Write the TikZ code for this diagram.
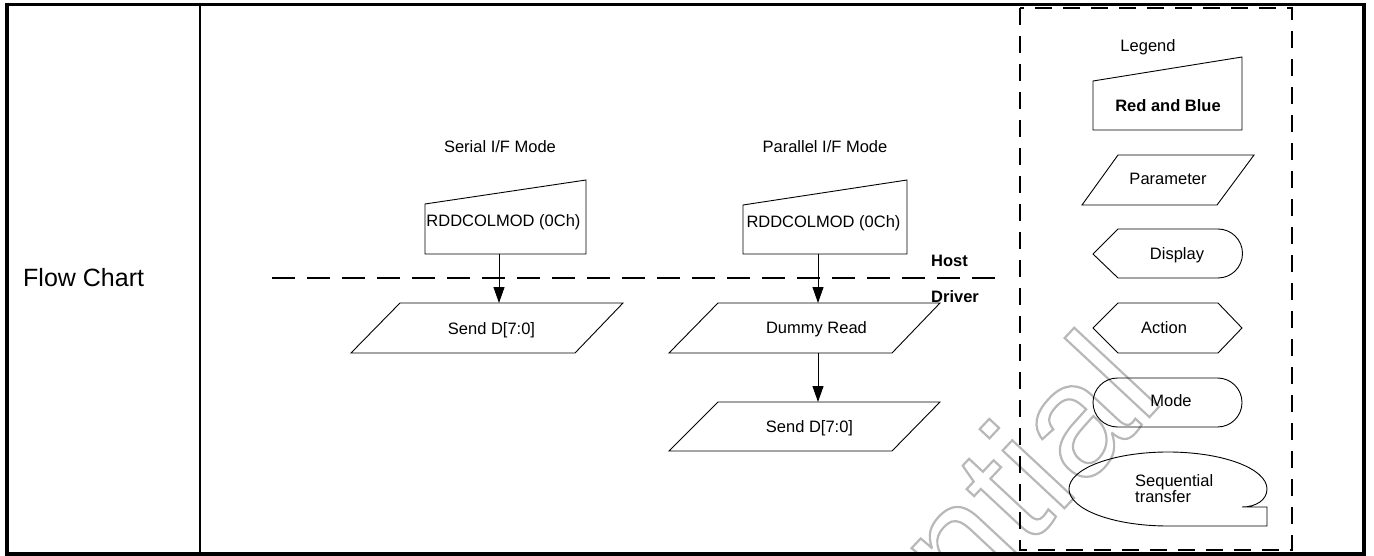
\documentclass[tikz,border=0pt]{standalone}
\usepackage{fontspec}
\setmainfont{Liberation Sans}
\usetikzlibrary{arrows.meta}
\newcommand{\outlinetext}[1]{\special{pdf:literal direct 1 Tr 2.2 w}#1\special{pdf:literal direct 0 Tr}}
\begin{document}
\begin{tikzpicture}[x=1pt,y=-1pt,
  shp/.style={draw=black, line width=0.9pt, line join=miter},
  lbl/.style={font=\fontsize{16.5}{16.5}\selectfont, inner sep=0pt, anchor=base},
  lblw/.style={lbl, anchor=base west},
  bold/.style={font=\fontsize{16.5}{16.5}\selectfont\bfseries},
  arr/.style={draw, line width=1pt, -{Triangle[length=16pt,width=11pt]}},
  sepline/.style={line width=2pt, dash pattern=on 23pt off 12pt},
  lgdbox/.style={line width=2pt, dash pattern=on 17pt off 11pt},
]
\useasboundingbox (0,0) rectangle (1374,556);
% watermark
\begin{scope}
\clip (0,0) rectangle (1374,556);
\node[inner sep=0pt, anchor=base west, rotate=47, text=black!28,
  font=\fontsize{160}{160}\selectfont] (wm) at (590,1017) {\outlinetext{Confidential}};
\end{scope}
% frame
\draw[line width=4pt] (7,3) -- (7,556);
\draw[line width=3pt] (5,4.7) -- (1366,4.7);
\draw[line width=4pt] (1364,3) -- (1364,556);
\draw[line width=4pt] (5,554) -- (1366,554);
\draw[line width=2pt] (200,4) -- (200,554);
\node[lblw, font=\fontsize{25}{25}\selectfont] (fc) at (23,287) {Flow Chart};

% host/driver separator
\draw[sepline] (272,278) -- (1006,278);
\node[lblw, bold] (host) at (931,266) {Host};
\node[lblw, bold] (drv) at (931,302) {Driver};

% serial column
\node[lbl] (sTitle) at (500,153) {Serial I/F Mode};
\draw[shp] (425,204) -- (586,180) -- (586,254) -- (425,254) -- cycle;
\node[lbl] (sIn) at (503.5,227) {RDDCOLMOD (0Ch)};
\draw[shp] (400,303) -- (623,303) -- (575,353) -- (351,353) -- cycle;
\node[lbl] (sSend) at (491.5,334) {Send D[7:0]};
\coordinate (sInB) at (499,254);
\coordinate (sSendT) at (499,303);
\draw[arr] (sInB) -- (sSendT);

% parallel column
\node[lbl] (pTitle) at (825,153) {Parallel I/F Mode};
\draw[shp] (743,205) -- (907,180) -- (907,254) -- (743,254) -- cycle;
\node[lbl] (pIn) at (823.5,228) {RDDCOLMOD (0Ch)};
\draw[shp] (718,303) -- (940,303) -- (892,353) -- (669,353) -- cycle;
\node[lbl] (pDummy) at (816.5,333) {Dummy Read};
\draw[shp] (718,402) -- (940,402) -- (892,451) -- (669,451) -- cycle;
\node[lbl] (pSend) at (809.5,432) {Send D[7:0]};
\coordinate (pInB) at (818,254);
\coordinate (pDummyT) at (818,303);
\coordinate (pDummyB) at (818,353);
\coordinate (pSendT) at (818,402);
\draw[arr] (pInB) -- (pDummyT);
\draw[arr] (pDummyB) -- (pSendT);

% legend
\draw[lgdbox] (1020,8) rectangle (1292,550);
\node[lbl] (lgTitle) at (1148,52) {Legend};
\draw[shp] (1093,81) -- (1242,57) -- (1242,130) -- (1093,130) -- cycle;
\node[lbl, bold] (lgRB) at (1168,112) {Red and Blue};
\draw[shp] (1118,155) -- (1254,155) -- (1217,205) -- (1082,205) -- cycle;
\node[lbl] (lgPar) at (1168,185) {Parameter};
\draw[shp] (1093,254) -- (1118,229) -- (1218,229) arc[start angle=90, end angle=-90, radius=24.5pt] -- (1118,278) -- cycle;
\node[lbl] (lgDisp) at (1177,259) {Display};
\draw[shp] (1093,328) -- (1118,303) -- (1218,303) -- (1242,328) -- (1218,353) -- (1118,353) -- cycle;
\node[lbl] (lgAct) at (1164,333) {Action};
\draw[shp] (1117.5,378) -- (1217.5,378) arc[start angle=90, end angle=-90, radius=24.5pt] -- (1117.5,427) arc[start angle=270, end angle=90, radius=24.5pt] -- cycle;
\node[lbl] (lgMode) at (1171,406) {Mode};
\draw[shp] (1168,526) arc[start angle=270, end angle=0, x radius=99pt, y radius=37pt]
  .. controls (1267,500) and (1256,507) .. (1242,507) -- (1267,507) -- (1267,526) -- (1168,526);
\node[font=\fontsize{16.5}{16}\selectfont, inner sep=0pt, align=left, anchor=west] (lgSeq) at (1135,489) {Sequential\\transfer};
\end{tikzpicture}
\end{document}
